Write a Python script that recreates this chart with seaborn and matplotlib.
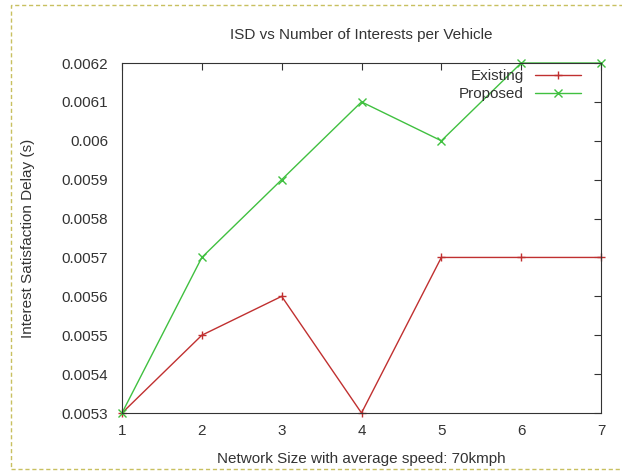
import matplotlib
matplotlib.use("Agg")
import matplotlib.pyplot as plt
import seaborn as sns
import pandas as pd
from matplotlib.patches import Rectangle

x_vals = [1, 2, 3, 4, 5, 6, 7]
existing = [0.0053, 0.0055, 0.0056, 0.0053, 0.0057, 0.0057, 0.0057]
proposed = [0.0053, 0.0057, 0.0059, 0.0061, 0.0060, 0.0062, 0.0062]
y_ticks = [0.0053, 0.0054, 0.0055, 0.0056, 0.0057, 0.0058, 0.0059, 0.006, 0.0061, 0.0062]
y_tick_labels = ["0.0053", "0.0054", "0.0055", "0.0056", "0.0057", "0.0058", "0.0059", "0.006", "0.0061", "0.0062"]

df = pd.DataFrame({
    "x": x_vals * 2,
    "y": existing + proposed,
    "series": ["Existing"] * len(x_vals) + ["Proposed"] * len(x_vals),
})

sns.set_style("white")
plt.rcParams['font.family'] = ['Liberation Sans', 'DejaVu Sans']

fig = plt.figure(figsize=(6.22, 4.71), dpi=100)
ax = fig.add_axes([122 / 622, 1 - 413 / 471, 479 / 622, 350 / 471])

palette = {"Existing": "#c03030", "Proposed": "#40c040"}
markers = {"Existing": "+", "Proposed": "x"}
sns.lineplot(data=df, x="x", y="y", hue="series", style="series",
             palette=palette, markers=markers, dashes=False,
             markersize=6, linewidth=1.0, ax=ax)

for ln in ax.lines:
    ln.set_markeredgecolor(ln.get_color())
    ln.set_markeredgewidth(1.0)
    ln.set_clip_on(False)

ax.set_xlim(1, 7)
ax.set_ylim(0.0053, 0.0062)
ax.set_xticks(x_vals)
ax.set_xticklabels([str(v) for v in x_vals])
ax.set_yticks(y_ticks)
ax.set_yticklabels(y_tick_labels)
ax.tick_params(direction="in", top=True, right=True, length=5, width=0.8,
               labelsize=11, colors="#333333")
ax.tick_params(axis="y", pad=10)
ax.tick_params(axis="x", pad=8)
for s in ax.spines.values():
    s.set_color("#333333")
    s.set_linewidth(0.8)

ax.set_xlabel("Network Size with average speed: 70kmph", fontsize=11, color="#333333", labelpad=10)
ax.set_ylabel("Interest Satisfaction Delay (s)", fontsize=11, color="#333333", labelpad=19)
ax.set_title("ISD vs Number of Interests per Vehicle", fontsize=11, color="#333333", pad=17)

handles, labels = ax.get_legend_handles_labels()
for h in handles:
    h.set_markeredgecolor(h.get_color())
    h.set_markeredgewidth(1.0)
leg = ax.legend(handles, labels, loc="upper right", markerfirst=False, frameon=False,
                fontsize=11, handlelength=3.0, handletextpad=0.7, borderaxespad=0.0,
                labelspacing=0.25, bbox_to_anchor=(0.970, 1.0))
for t in leg.get_texts():
    t.set_color("#333333")

fig.patches.append(Rectangle((11 / 622, 2 / 471), 1.0, 464 / 471, transform=fig.transFigure,
                             fill=False, edgecolor="#c8c060", linestyle=(0, (3, 2)),
                             linewidth=1.0))

fig.savefig("out.png", dpi=100)
